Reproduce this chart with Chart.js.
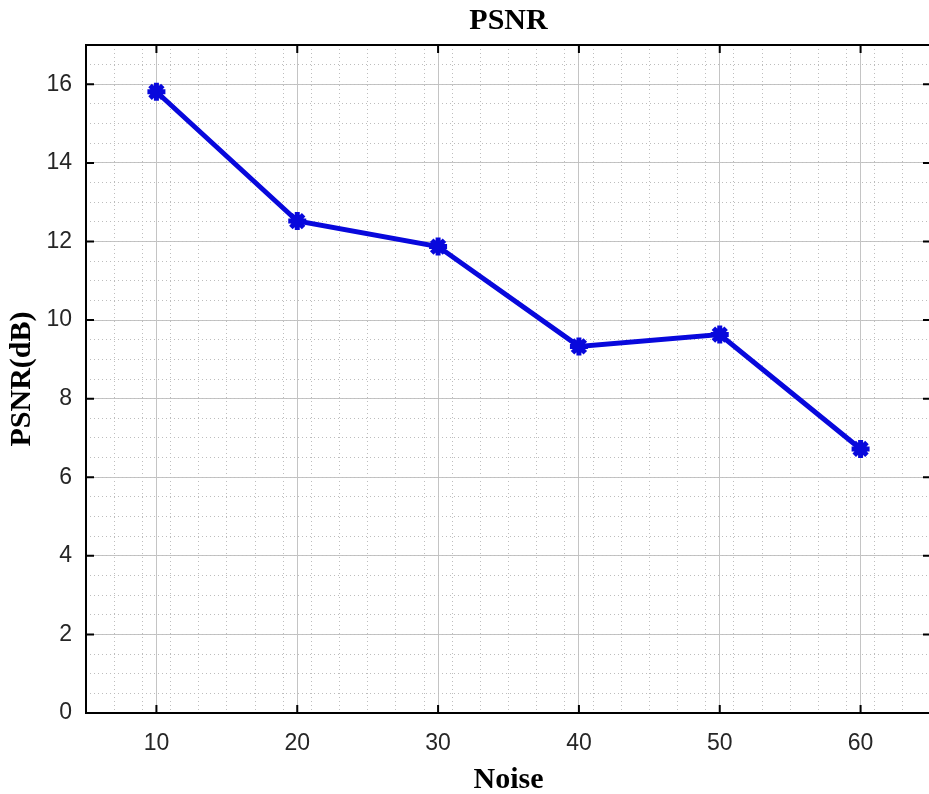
<!DOCTYPE html>
<html>
<head>
<meta charset="utf-8">
<script src="https://cdn.jsdelivr.net/npm/chart.js@4.4.1/dist/chart.umd.min.js"></script>
<style>
  html, body { margin: 0; padding: 0; background: #fff; overflow: hidden; }
  #wrap { width: 945px; height: 794px; }
</style>
</head>
<body>
<div id="wrap"><canvas id="psnrChart"></canvas></div>
<script>
const noise = [10, 20, 30, 40, 50, 60];
const psnr = [15.81, 12.52, 11.87, 9.33, 9.63, 6.72];
const xTicks = [10, 20, 30, 40, 50, 60];
const yTicks = [0, 2, 4, 6, 8, 10, 12, 14, 16];

const serifBold = { family: "'Liberation Serif', 'Times New Roman', serif", size: 30, weight: "bold" };
const tickFont = { family: "'Liberation Sans', Arial, sans-serif", size: 23 };

/* inward ticks + top border, matlab style */
const boxPlugin = {
    id: "box",
    afterDraw(chart) {
        const ctx = chart.ctx;
        const a = chart.chartArea;
        const xs = chart.scales.x, ys = chart.scales.y;
        ctx.save();
        ctx.strokeStyle = "#000";
        ctx.lineWidth = 2;
        ctx.beginPath();
        ctx.moveTo(a.left, a.top);
        ctx.lineTo(a.right, a.top);
        ctx.stroke();
        xTicks.forEach(v => {
            const px = xs.getPixelForValue(v);
            ctx.beginPath();
            ctx.moveTo(px, a.bottom); ctx.lineTo(px, a.bottom - 8);
            ctx.moveTo(px, a.top); ctx.lineTo(px, a.top + 8);
            ctx.stroke();
        });
        yTicks.forEach(v => {
            const py = ys.getPixelForValue(v);
            ctx.beginPath();
            ctx.moveTo(a.left, py); ctx.lineTo(a.left + 8, py);
            ctx.moveTo(a.right, py); ctx.lineTo(a.right - 8, py);
            ctx.stroke();
        });
        ctx.restore();
    }
};

// no extra side padding for the horizontal scales
function fitX(h) {
    return s => { s.height = h; s.paddingLeft = 0; s.paddingRight = 0; };
}

new Chart(document.getElementById("psnrChart"), {
    type: "line",
    data: {
        datasets: [{
            data: noise.map((n, i) => ({ x: n, y: psnr[i] })),
            borderColor: "#0808dc",
            backgroundColor: "#0808dc",
            borderWidth: 5,
            pointStyle: "star",
            pointRadius: 9,
            pointBorderWidth: 5,
            pointHoverRadius: 9,
            tension: 0
        }]
    },
    options: {
        responsive: true,
        maintainAspectRatio: false,
        animation: false,
        layout: { padding: 0 },
        plugins: {
            legend: { display: false },
            tooltip: { enabled: false },
            title: { display: false }
        },
        scales: {
            x: {
                type: "linear",
                min: 5,
                max: 65,
                ticks: { stepSize: 10, color: "#262626", font: tickFont, padding: 17, maxRotation: 0 },
                afterBuildTicks: s => { s.ticks = xTicks.map(v => ({ value: v })); },
                afterFit: fitX(81),
                grid: { color: "#c4c4c4", lineWidth: 1, drawTicks: false },
                border: { color: "#000", width: 2 },
                title: { display: true, text: "Noise", color: "#000", font: serifBold, padding: { top: 0, bottom: -4 } }
            },
            // minor grid, carries the chart title centred over the plot
            xm: {
                type: "linear",
                position: "top",
                min: 5,
                max: 65,
                ticks: { display: false, stepSize: 2 },
                afterFit: fitX(45),
                grid: { color: "#bdbdbd", lineWidth: 1, drawTicks: false },
                border: { display: false, dash: [1, 3] },
                title: { display: true, text: "PSNR", color: "#000", font: serifBold, padding: { top: 3, bottom: 0 } }
            },
            y: {
                type: "linear",
                min: 0,
                max: 17,
                ticks: { stepSize: 2, color: "#262626", font: tickFont, padding: 14 },
                afterBuildTicks: s => { s.ticks = yTicks.map(v => ({ value: v })); },
                afterFit: s => { s.width = 86; },
                grid: { color: "#c4c4c4", lineWidth: 1, drawTicks: false },
                border: { color: "#000", width: 2 },
                title: { display: true, text: "PSNR(dB)", color: "#000", font: serifBold, padding: { top: 4, bottom: 0 } }
            },
            ym: {
                type: "linear",
                position: "left",
                min: 0,
                max: 17,
                ticks: { display: false, stepSize: 0.5 },
                afterFit: s => { s.width = 0; },
                grid: { color: "#bdbdbd", lineWidth: 1, drawTicks: false },
                border: { display: false, dash: [1, 3] }
            }
        }
    },
    plugins: [boxPlugin]
});
</script>
</body>
</html>
